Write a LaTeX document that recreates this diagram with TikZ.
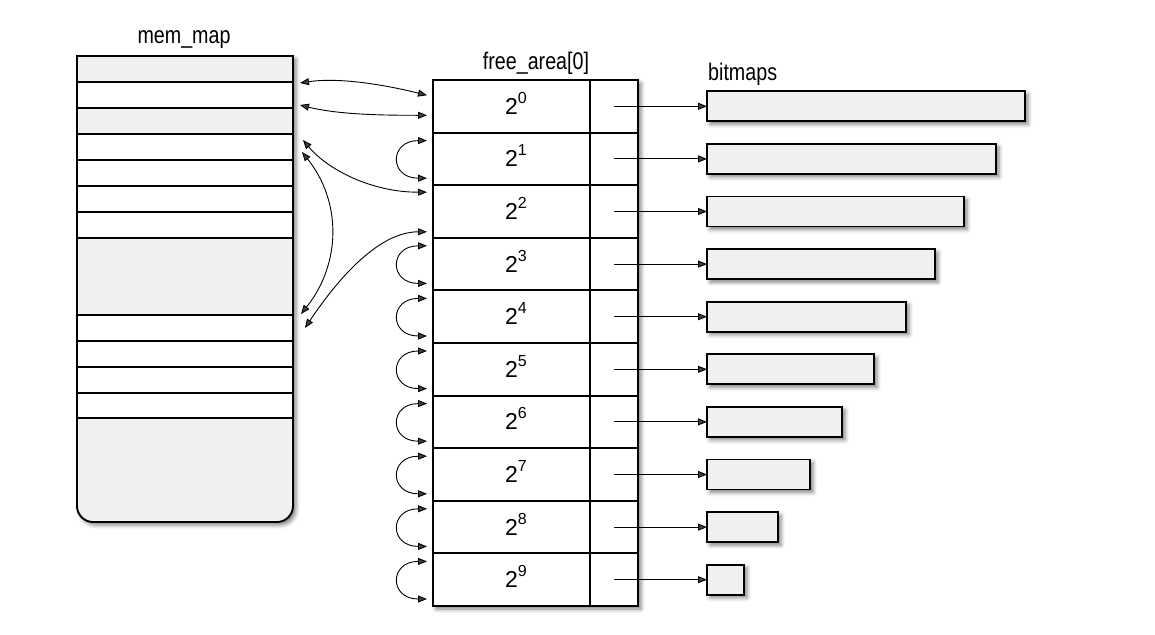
\documentclass[tikz,border=0pt]{standalone}
\usepackage{fontspec}
\setmainfont{Liberation Sans}[FakeStretch=0.82]
\newfontfamily\digfont{Liberation Sans}
\usetikzlibrary{positioning,arrows.meta,calc,shadows.blur}
\definecolor{memgray}{HTML}{F0F0F0}
\newcommand{\pw}[1]{2\rlap{\smash{\raisebox{11pt}{\fontsize{16}{16}\selectfont #1}}}}

\begin{document}
\begin{tikzpicture}[x=1pt, y=-1pt,
  box/.style = {draw, line width=1.9pt, inner sep=0pt, outer sep=0pt},
  soft/.style = {blur shadow={shadow xshift=3pt, shadow yshift=-3pt, shadow blur radius=4pt, shadow opacity=50}},
  memrow/.style = {box, minimum width=216pt},
  cell/.style = {box, minimum height=52.6pt, font=\digfont\fontsize{23}{26}\selectfont},
  bmap/.style = {box, fill=memgray, minimum height=30pt, soft},
  lbl/.style = {inner sep=0pt, anchor=base, font=\fontsize{24}{28}\selectfont},
  lnk/.style = {line width=0.9pt, {Triangle[length=9pt,width=7pt]}-{Triangle[length=9pt,width=7pt]}},
  ptr/.style = {line width=0.9pt, -{Triangle[length=9pt,width=7pt]}}]
\useasboundingbox (0,0) rectangle (1155,634);

\node[lbl] (memlbl) at (184,44) {mem\_map};
\node[lbl] (falbl) at (536,70) {free\_area[0]};
\node[lbl, anchor=base west] (bmlbl) at (708,80) {bitmaps};

% mem_map
\draw[box, fill=memgray, soft] (77,56) [rounded corners=16pt] -- (77,522) -- (293,522) [sharp corners] -- (293,56) -- cycle;
\node[memrow, fill=memgray, minimum height=26pt, anchor=north west] (m0) at (77,56) {};
\foreach \i/\h/\c [remember=\i as \j (initially 0)] in {1/26/white, 2/26/memgray, 3/26/white, 4/26/white, 5/26/white, 6/26/white, 7/77/memgray, 8/26/white, 9/26/white, 10/26/white, 11/25/white}
  \node[memrow, fill=\c, minimum height=\h pt, below=0pt of m\j] (m\i) {};

% free_area and bitmaps
\node[box, fill=white, soft, minimum width=205pt, minimum height=526pt, anchor=north west] (fa) at (433,80) {};
\node[cell, minimum width=157pt, anchor=north west] (f0) at (fa.north west) {\pw{0}};
\node[cell, minimum width=48pt, right=0pt of f0] (p0) {};
\foreach \i [remember=\i as \j (initially 0)] in {1,...,9} {
  \node[cell, minimum width=157pt, below=0pt of f\j] (f\i) {\pw{\i}};
  \node[cell, minimum width=48pt, right=0pt of f\i] (p\i) {};
}
\foreach \i/\w in {0/318, 1/289, 2/257, 3/228, 4/199, 5/167, 6/135, 7/103, 8/71, 9/37} {
  \node[bmap, minimum width=\w pt, right=69pt of p\i] (b\i) {};
  \draw[ptr] (p\i.center) -- (b\i.west);
}

% links
\draw[lnk] ($(m1.north east)+(7,1)$) .. controls +(40,-6) and +(-40,-10) .. ($(f0.west)+(-6,-11)$);
\draw[lnk] ($(m1.south east)+(7,-3)$) .. controls +(40,10) and +(-40,0) .. ($(f0.west)+(-6,9)$);
\draw[lnk] ($(m3.north east)+(10,6)$) .. controls +(25,30) and +(-55,0) .. ($(f2.north west)+(-6,7)$);
\draw[lnk] ($(m3.east)+(9,5)$) .. controls +(40,50) and +(40,-50) .. ($(m8.north east)+(8,-1)$);
\draw[lnk] ($(f3.north west)+(-6,-6)$) .. controls +(-50,0) and +(30,-45) .. ($(m8.east)+(12,0)$);
\foreach \i in {1,3,4,5,6,7,8,9}
  \draw[lnk] ($(f\i.north west)+(-6,8)$) .. controls +(-38,0) and +(-38,0) .. ($(f\i.south west)+(-6,-7)$);
\end{tikzpicture}
\end{document}
